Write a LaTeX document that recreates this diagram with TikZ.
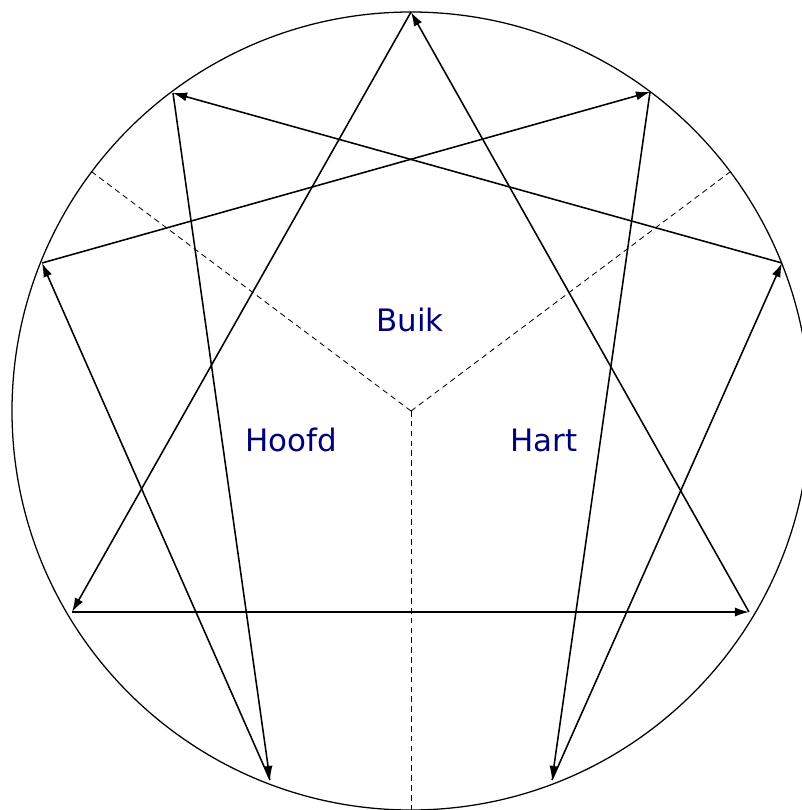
\documentclass[tikz,border=0pt]{standalone}
\usepackage{tikz}
\usepackage{xcolor}
\usepackage{fontspec}
\setmainfont{DejaVu Sans}
\usetikzlibrary{arrows.meta}
\definecolor{lbl}{RGB}{0,0,120}

\begin{document}
\begin{tikzpicture}[x=0.025cm,y=-0.025cm,
    arr/.style={line width=1.1pt,-{Latex[length=10pt,width=6.5pt]}},
    zone/.style={font=\fontsize{22}{26}\selectfont,text=lbl}]
    \useasboundingbox (0,0) rectangle (802,810);
    \clip (0,0) rectangle (802,810);
    % points of the figure
    \foreach \n/\px/\py in {9/411/12, 1/650/92, 2/782/263, 3/749/612, 4/552/780,
      5/270/780, 6/72/612, 7/42/263, 8/173/93}{
      \coordinate (p\n) at (\px,\py);
    }
    \coordinate (mid) at (411,411);
    \coordinate (dl) at (92,172);
    \coordinate (dr) at (730,172);
    \coordinate (db) at (411,810);
    \draw[line width=0.9pt] (mid) circle (399);
    \foreach \e in {dl,dr,db}
      \draw[line width=0.6pt,dash pattern=on 4pt off 3pt] (mid) -- (\e);
    % triangle and hexad
    \foreach \a/\b in {9/6, 6/3, 3/9, 1/4, 4/2, 2/8, 8/5, 5/7, 7/1}
      \draw[arr] (p\a) -- (p\b);
    \node[zone] (buik) at (410,320) {Buik};
    \node[zone] (hoofd) at (291,440) {Hoofd};
    \node[zone] (hart) at (544,440) {Hart};
\end{tikzpicture}
\end{document}
